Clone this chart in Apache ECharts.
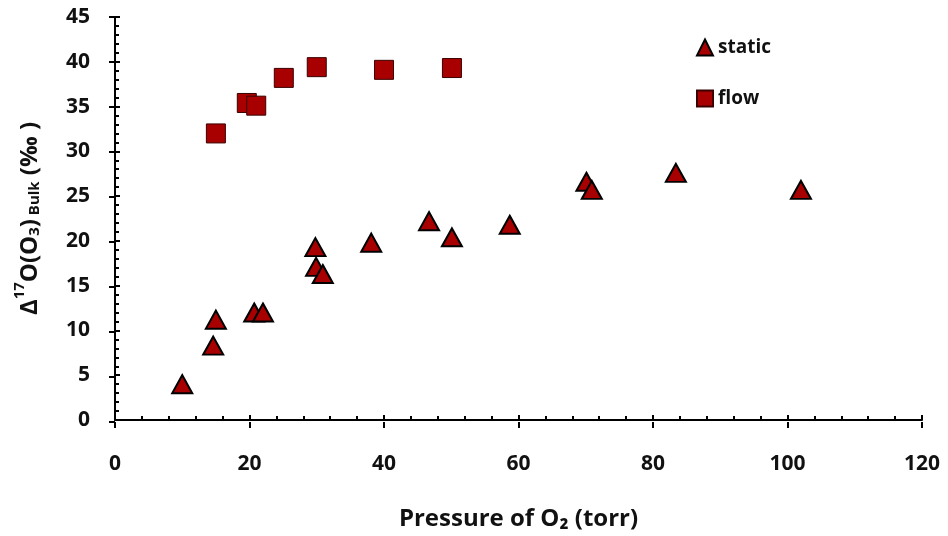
<!DOCTYPE html>
<html>
<head>
<meta charset="utf-8">
<script src="https://cdn.jsdelivr.net/npm/echarts@6/dist/echarts.min.js"></script>
<style>html,body{margin:0;padding:0;background:#fff}#c{width:948px;height:536px}</style>
</head>
<body>
<div id="c"></div>
<script>
// Data
const staticX = [10.0, 14.6, 15.0, 20.7, 22.0, 29.8, 29.9, 30.9, 38.1, 46.7, 50.1, 58.7, 70.1, 70.9, 83.4, 102.0];
const staticY = [4.0, 8.3, 11.2, 12.0, 12.0, 19.3, 17.1, 16.3, 19.8, 22.2, 20.4, 21.8, 26.6, 25.7, 27.6, 25.7];
const flowX = [15.0, 19.6, 21.0, 25.1, 30.0, 40.0, 50.1];
const flowY = [32.0, 35.4, 35.1, 38.2, 39.4, 39.1, 39.3];
const seriesNames = ['static', 'flow'];
const xTitle = 'Pressure of O\u2082 (torr)';

const FONT = 'Open Sans';
const RED = '#a80000';

function pairs(xs, ys) { return xs.map((x, i) => [x, ys[i]]); }

const chart = echarts.init(document.getElementById('c'), null, {renderer: 'canvas'});
const axisLine = {show: true, lineStyle: {color: '#000', width: 2}};
const gridBox = {left: 115, right: 26, top: 17, bottom: 114, containLabel: false};
chart.setOption({
  animation: false,
  backgroundColor: '#fff',
  grid: [Object.assign({}, gridBox), Object.assign({}, gridBox)],
  legend: {
    data: [
      {name: seriesNames[0], icon: 'triangle'},
      {name: seriesNames[1], icon: 'rect'}
    ],
    orient: 'vertical',
    left: 691, top: 33,
    itemWidth: 16, itemHeight: 16, itemGap: 32,
    textStyle: {fontFamily: FONT, fontWeight: 'bold', fontSize: 19, color: '#111'}
  },
  xAxis: [{
    type: 'value', min: 0, max: 120, interval: 20, gridIndex: 0,
    axisLine: axisLine,
    axisTick: {show: true, inside: true, length: 5, lineStyle: {color: '#000', width: 2}},
    minorTick: {show: true, splitNumber: 5, length: 4, lineStyle: {color: '#000', width: 2}},
    splitLine: {show: false}, minorSplitLine: {show: false},
    axisLabel: {margin: 34, fontFamily: FONT, fontWeight: 'bold', fontSize: 21, color: '#111'},
    name: xTitle, nameLocation: 'middle', nameGap: 87,
    nameTextStyle: {fontFamily: FONT, fontWeight: 'bold', fontSize: 24, color: '#111'}
  }, {
    type: 'value', min: 0, max: 120, interval: 20, gridIndex: 1, position: 'bottom',
    axisLine: {show: false},
    axisTick: {show: true, inside: false, length: 6, lineStyle: {color: '#000', width: 2}},
    axisLabel: {show: false}, splitLine: {show: false}
  }],
  yAxis: [{
    type: 'value', min: 0, max: 45, interval: 5, gridIndex: 0,
    axisLine: axisLine,
    axisTick: {show: true, inside: true, length: 5, lineStyle: {color: '#000', width: 2}},
    minorTick: {show: true, splitNumber: 5, length: 4, lineStyle: {color: '#000', width: 2}},
    splitLine: {show: false}, minorSplitLine: {show: false},
    axisLabel: {margin: 25, fontFamily: FONT, fontWeight: 'bold', fontSize: 21, color: '#111'},
    name: '{n|\u0394}{sup|17}{n|O(O}{sub|3}{n|)}{sub2| Bulk} {n|(\u2030 )}',
    nameLocation: 'middle', nameGap: 73, nameRotate: 90,
    nameTextStyle: {
      fontFamily: FONT, fontWeight: 'bold', fontSize: 24, color: '#111',
      rich: {
        n: {fontFamily: FONT, fontWeight: 'bold', fontSize: 24, color: '#111', verticalAlign: 'bottom', lineHeight: 30},
        sup: {fontFamily: FONT, fontWeight: 'bold', fontSize: 15, color: '#111', verticalAlign: 'top', lineHeight: 18},
        sub: {fontFamily: FONT, fontWeight: 'bold', fontSize: 15, color: '#111', verticalAlign: 'bottom', lineHeight: 22},
        sub2: {fontFamily: FONT, fontWeight: 'bold', fontSize: 15, color: '#111', verticalAlign: 'bottom', lineHeight: 16}
      }
    }
  }, {
    type: 'value', min: 0, max: 45, interval: 5, gridIndex: 1, position: 'left',
    axisLine: {show: false},
    axisTick: {show: true, inside: false, length: 6, lineStyle: {color: '#000', width: 2}},
    axisLabel: {show: false}, splitLine: {show: false}
  }],
  series: [{
    name: seriesNames[0], type: 'scatter', symbol: 'triangle', symbolSize: [20, 18],
    xAxisIndex: 0, yAxisIndex: 0,
    itemStyle: {color: RED, borderColor: '#000', borderWidth: 2, opacity: 1},
    data: pairs(staticX, staticY)
  }, {
    name: seriesNames[1], type: 'scatter', symbol: 'rect', symbolSize: 19,
    xAxisIndex: 0, yAxisIndex: 0,
    itemStyle: {color: RED, borderColor: '#3a0000', borderWidth: 1, opacity: 1},
    data: pairs(flowX, flowY)
  }]
});
</script>
</body>
</html>
